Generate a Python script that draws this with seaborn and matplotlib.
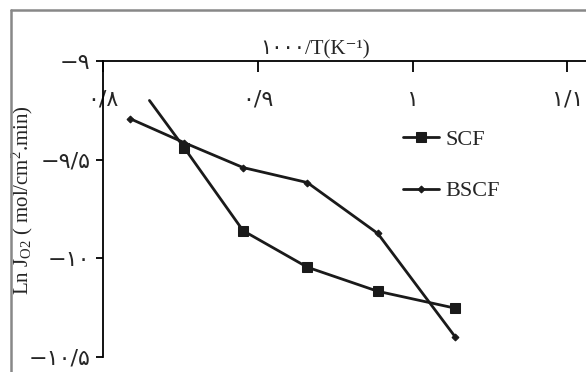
import matplotlib
matplotlib.use("Agg")
import matplotlib.pyplot as plt
import seaborn as sns
import pandas as pd
from matplotlib.lines import Line2D

sns.set_theme(style="white")
plt.rcParams['font.family'] = ['Liberation Serif', 'DejaVu Sans']
plt.rcParams['mathtext.fontset'] = 'custom'
plt.rcParams['mathtext.rm'] = 'Liberation Serif'
plt.rcParams['mathtext.it'] = 'Liberation Serif:italic'

# data (1000/T vs Ln J_O2)
scf_x = [0.830, 0.8525, 0.8905, 0.932, 0.9775, 1.0277]
scf_y = [-9.20, -9.44, -9.86, -10.045, -10.167, -10.253]
bscf_x = [0.8177, 0.8525, 0.8905, 0.932, 0.9775, 1.0277]
bscf_y = [-9.293, -9.414, -9.54, -9.616, -9.874, -10.40]

x_ticks = [0.8, 0.9, 1.0, 1.1]
x_tick_labels = ["۰/۸", "۰/۹", "۱", "۱/۱"]
y_ticks = [-9.0, -9.5, -10.0, -10.5]
y_tick_labels = ["−۹", "−۹/۵", "−۱۰", "−۱۰/۵"]
series_names = ["SCF", "BSCF"]

df = pd.concat([
    pd.DataFrame({"x": scf_x, "y": scf_y, "s": series_names[0]}),
    pd.DataFrame({"x": bscf_x, "y": bscf_y, "s": series_names[1]}),
])

fig = plt.figure(figsize=(5.86, 3.72), dpi=100)
ax = fig.add_axes([103/586, 1-357/372, 1-103/586, (357-61)/372])

col = "#1a1a1a"
d_scf = df[df.s == "SCF"]
d_bscf = df[df.s == "BSCF"]
sns.lineplot(data=d_scf, x="x", y="y", ax=ax, color=col, lw=2.0,
             marker="s", markersize=7.5, markevery=list(range(1, len(scf_x))),
             markeredgecolor=col, sort=False, label="SCF")
sns.lineplot(data=d_bscf, x="x", y="y", ax=ax, color=col, lw=2.0,
             marker="D", markersize=3.5, markeredgecolor=col, sort=False,
             label="BSCF")

ax.set_xlim(0.8, 1.112)
ax.set_ylim(-10.5, -9.0)

for s in ["right", "bottom"]:
    ax.spines[s].set_visible(False)
for s in ["top", "left"]:
    ax.spines[s].set_color("black")
    ax.spines[s].set_linewidth(1.3)

ax.xaxis.tick_top()
ax.set_xticks(x_ticks)
ax.set_xticklabels(x_tick_labels, fontsize=16, family=['DejaVu Sans'])
ax.tick_params(axis="x", top=True, bottom=False, labeltop=True, labelbottom=False,
               direction="in", length=8, width=1.3, color="black", pad=-35)
for t in ax.get_xticklabels():
    t.set_bbox(dict(facecolor="white", edgecolor="none", pad=1))

ax.set_yticks(y_ticks)
ax.set_yticklabels(y_tick_labels, fontsize=16, family=['DejaVu Sans'])
ax.tick_params(axis="y", left=True, direction="out", length=5, width=1.3,
               color="black", pad=4)

ax.xaxis.set_label_position("top")
ax.set_xlabel("۱۰۰۰/T(K⁻¹)", fontsize=15)
ax.xaxis.set_label_coords((315-103)/483, 1 + (61-54)/296)
ax.set_ylabel(r"Ln J$_{\mathrm{O2}}$ ( mol/cm$^{2}$.min)", fontsize=15)
ax.yaxis.set_label_coords(-(103-35)/483, 1 - (200-61)/296)

leg = ax.legend(loc="upper left", bbox_to_anchor=((392-103)/483, 1 - (118-61)/296),
                frameon=False, fontsize=16, handlelength=1.6, handletextpad=0.3,
                labelspacing=1.4, borderpad=0)

# figure frame (gray top and left lines)
fig.add_artist(Line2D([11/586, 1], [1-10/372, 1-10/372], transform=fig.transFigure,
                      color="#888888", lw=1.8))
fig.add_artist(Line2D([11/586, 11/586], [0, 1-10/372], transform=fig.transFigure,
                      color="#888888", lw=1.8))

fig.savefig("out.png", dpi=100, facecolor="white")
